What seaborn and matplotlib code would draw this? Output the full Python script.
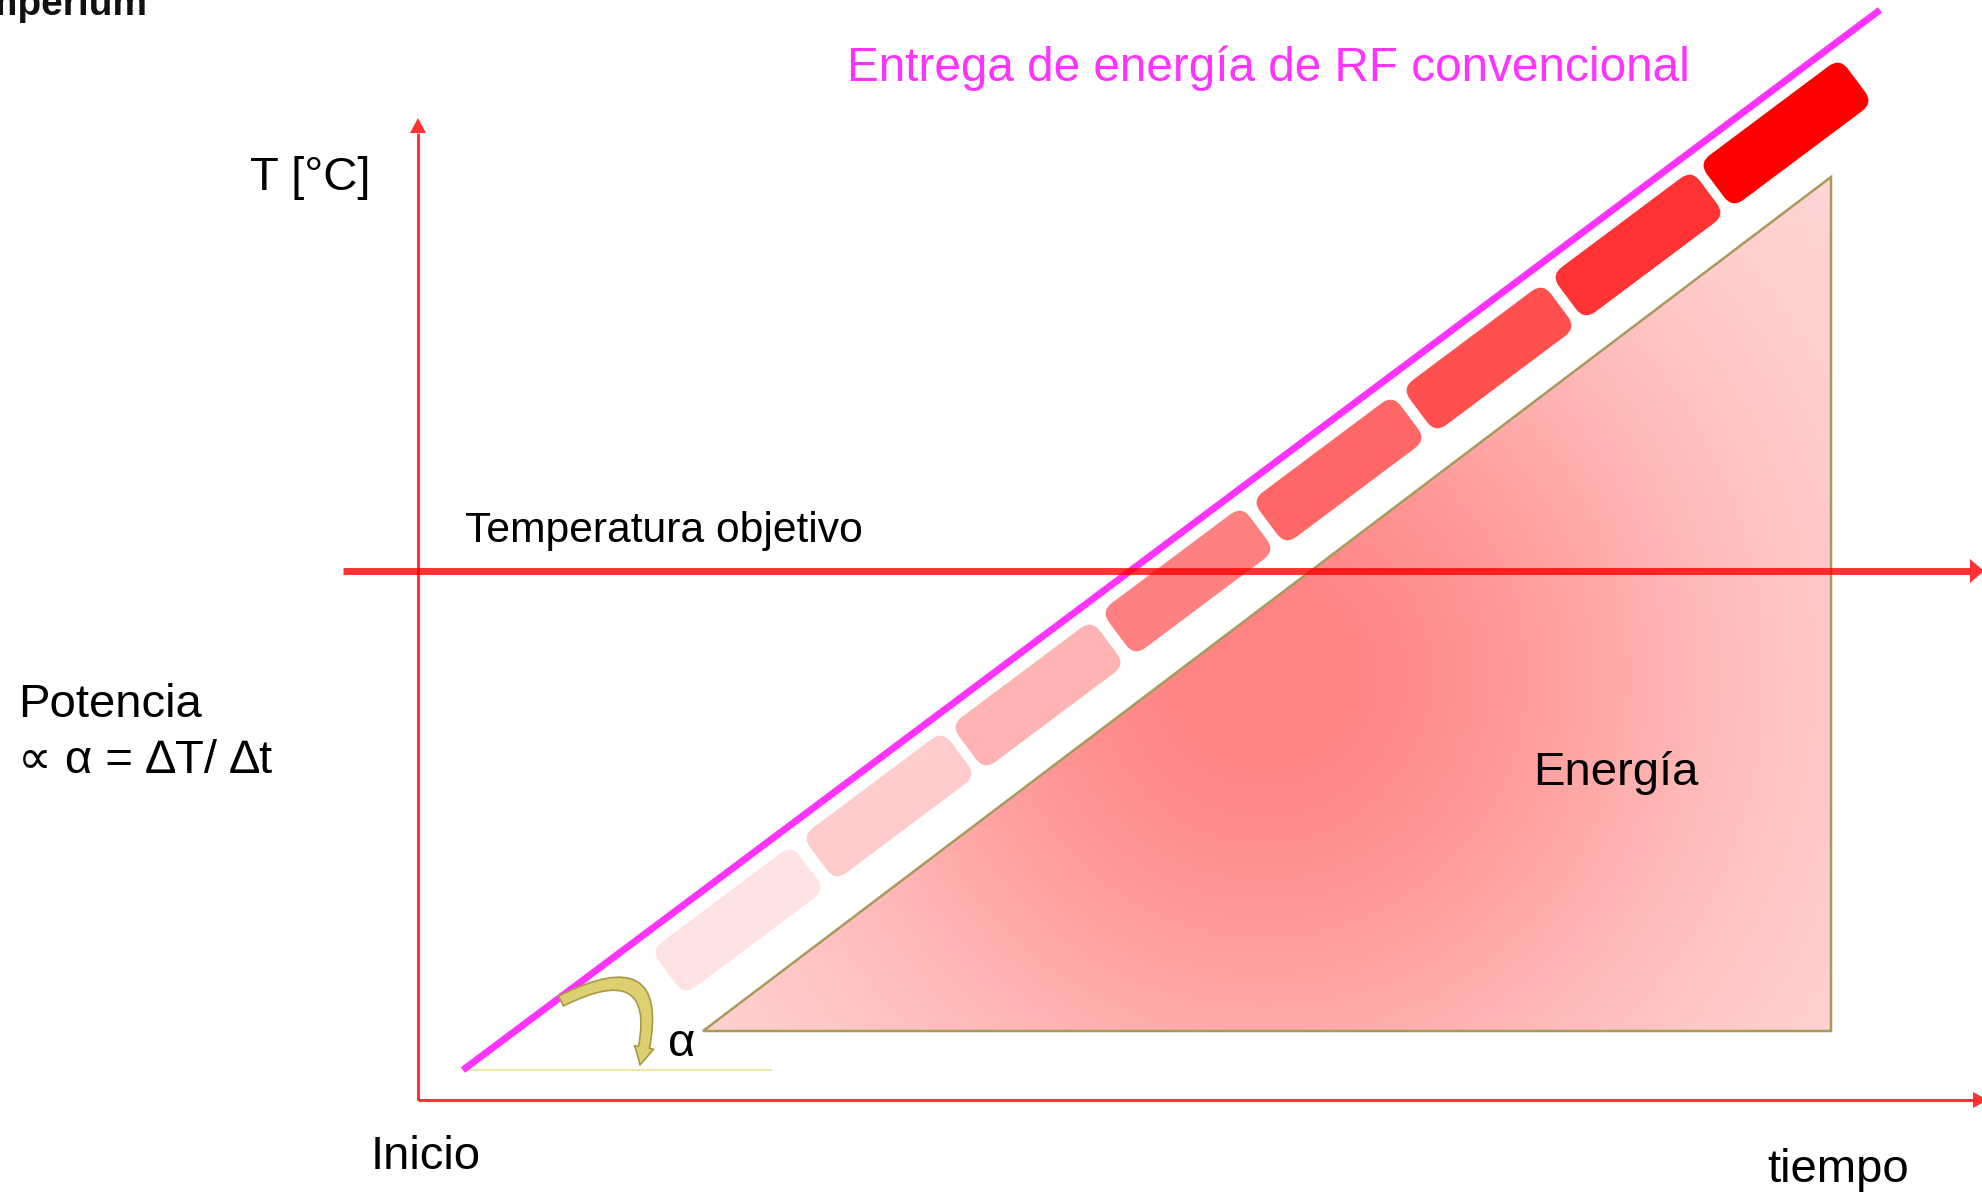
import numpy as np
import matplotlib
matplotlib.use("Agg")
import matplotlib.pyplot as plt
import seaborn as sns
from matplotlib.patches import Polygon, FancyBboxPatch, FancyArrowPatch
from matplotlib.transforms import Affine2D

# ---------------- data (diagram units: time -> right, temperature -> up; origin = "Inicio") -------------
ramp_time = [45, 1462]            # conventional RF energy delivery ramp
ramp_temp = [30, 1090]
target_temp = 529                 # "Temperatura objetivo"
target_time_start = -75
axis_time_max = 1570
axis_temp_max = 982
energy_time = [285, 1413, 1413]   # energy triangle
energy_temp = [69, 69, 923]
pulse_time = [320, 471, 620, 770, 921, 1071, 1220, 1368]
pulse_temp = [180, 294, 405, 519, 630, 742, 855, 967]
pulse_intensity = [0.11, 0.20, 0.30, 0.50, 0.60, 0.69, 0.80, 1.00]
baseline_time = [45, 353]
baseline_temp = [30, 30]

labels = {
    "title": "Entrega de energía de RF convencional",
    "ylabel": "T [°C]",
    "xlabel": "tiempo",
    "origin": "Inicio",
    "target": "Temperatura objetivo",
    "energy": "Energía",
    "power1": "Potencia",
    "power2": "∝ α = ∆T/ ∆t",
    "alpha": "α",
    "logo": "imperium",
}

# ---------------- style ----------------
sns.set_theme(style="white")
plt.rcParams["font.family"] = ["Liberation Sans", "DejaVu Sans"]

MAGENTA = "#FF33FF"
RED_A = (1.0, 0.0, 0.0, 0.8)
OLIVE = "#A89A5A"

fig = plt.figure(figsize=(19.82, 11.95), dpi=100)
ax = fig.add_axes([0, 0, 1, 1])
XL, YL = (-418, 1564), (-95, 1100)

# ---------------- energy triangle with radial gradient ----------------
x0, x1 = min(energy_time), max(energy_time)
y0, y1 = min(energy_temp), max(energy_temp)
gx = np.linspace(x0, x1, 700)
gy = np.linspace(y0, y1, 500)
GX, GY = np.meshgrid(gx, gy)
r = np.hypot(GX - 846, GY - 425)
f = 1.0 - np.exp(-(r / 450.0) ** 2)
g = (130 + (218 - 130) * f) / 255.0
img = np.dstack([np.ones_like(g), g, g])
im = ax.imshow(img, extent=[x0, x1, y0, y1], origin="lower", aspect="auto",
               interpolation="bilinear", zorder=1)
tri = Polygon(list(zip(energy_time, energy_temp)), closed=True, facecolor="none",
              edgecolor=OLIVE, lw=1.8, zorder=2)
ax.add_patch(tri)
im.set_clip_path(tri)

# ---------------- pulse bars ----------------
angle = np.degrees(np.arctan2(ramp_temp[1] - ramp_temp[0], ramp_time[1] - ramp_time[0]))
L, W = 176, 56
for t, T, k in zip(pulse_time, pulse_temp, pulse_intensity):
    col = (1.0, 1.0 - k, 1.0 - k)
    bar = FancyBboxPatch((-L / 2, -W / 2), L, W,
                         boxstyle="round,pad=0,rounding_size=14",
                         facecolor=col, edgecolor="none", zorder=3,
                         transform=Affine2D().rotate_deg(angle).translate(t, T) + ax.transData)
    ax.add_patch(bar)

# ---------------- ramp line (seaborn) ----------------
sns.lineplot(x=ramp_time, y=ramp_temp, color=MAGENTA, lw=5, ax=ax, zorder=4,
             solid_capstyle="butt", estimator=None, sort=False)

# pale baseline under the angle
ax.plot(baseline_time, baseline_temp, color="#F0E4A8", lw=1.5, zorder=2)

# ---------------- axes arrows ----------------
def arrow(xa, ya, xb, yb, lw, hl, hw, color, z):
    d = np.array([xb - xa, yb - ya], float)
    u = d / np.hypot(*d)
    n = np.array([-u[1], u[0]])
    base = np.array([xb, yb]) - u * hl
    ax.plot([xa, base[0]], [ya, base[1]], color=color, lw=lw, solid_capstyle="butt", zorder=z)
    pts = [(xb, yb), tuple(base + n * hw), tuple(base - n * hw)]
    ax.add_patch(Polygon(pts, closed=True, facecolor=color, edgecolor="none", zorder=z))

arrow(0, 0, 0, axis_temp_max, 2.2, 15, 8, RED_A, 5)
arrow(0, 0, axis_time_max, 0, 2.2, 15, 8, RED_A, 5)
arrow(target_time_start, target_temp, axis_time_max - 4, target_temp, 5, 14, 12, RED_A, 5)

# ---------------- curved alpha arrow ----------------
curv = FancyArrowPatch(posA=(143, 99), posB=(222, 35),
                       connectionstyle="arc3,rad=-1.1",
                       arrowstyle="simple,head_width=1.4,head_length=1.3,tail_width=0.8",
                       mutation_scale=10, facecolor="#DCD070", edgecolor="#A89848",
                       lw=1.2, shrinkA=0, shrinkB=0, zorder=6)
ax.add_patch(curv)

# ---------------- texts ----------------
FS = 34
ax.text(429, 1019, labels["title"], color=MAGENTA, fontsize=34.4, ha="left", va="baseline")
ax.text(-168, 910, labels["ylabel"], color="black", fontsize=FS, ha="left", va="baseline")
ax.text(47, 558, labels["target"], color="black", fontsize=30.7, ha="left", va="baseline")
ax.text(-400, 383, labels["power1"], color="black", fontsize=FS, ha="left", va="baseline")
ax.text(-400, 327, labels["power2"], color="black", fontsize=FS, ha="left", va="baseline",
        family=["Liberation Sans", "DejaVu Sans"])
ax.text(1115, 315, labels["energy"], color="black", fontsize=FS, ha="left", va="baseline")
ax.text(250, 44, labels["alpha"], color="black", fontsize=FS, ha="left", va="baseline")
ax.text(-47, -69, labels["origin"], color="black", fontsize=FS, ha="left", va="baseline")
ax.text(1349, -82, labels["xlabel"], color="black", fontsize=FS, ha="left", va="baseline")
ax.text(-446, 1085, labels["logo"], color="#111111", fontsize=28, fontweight="bold",
        ha="left", va="baseline")

ax.set_xlim(*XL)
ax.set_ylim(*YL)
ax.axis("off")
fig.savefig("out.png", dpi=100)
